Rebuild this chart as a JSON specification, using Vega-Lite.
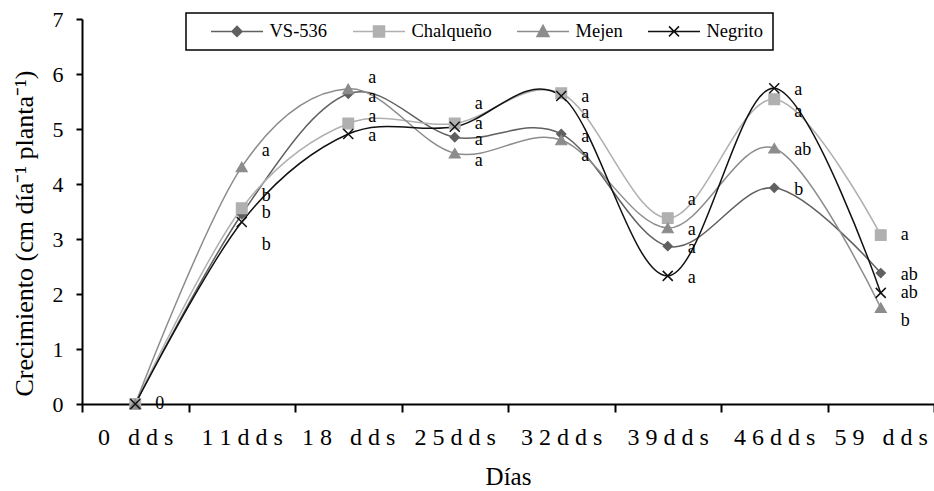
{
  "$schema": "https://vega.github.io/schema/vega-lite/v6.json",
  "width": 852,
  "height": 385,
  "autosize": {"type": "none"},
  "padding": {"left": 82, "top": 19, "right": 0, "bottom": 87},
  "background": "white",
  "config": {"font": "Liberation Serif", "view": {"stroke": null}},
  "data": {
    "values": [
      {"d": "0 dds", "s": "VS-536", "v": 0, "l": "0", "ly": 0},
      {"d": "0 dds", "s": "Chalqueño", "v": 0, "l": "", "ly": 0},
      {"d": "0 dds", "s": "Mejen", "v": 0, "l": "", "ly": 0},
      {"d": "0 dds", "s": "Negrito", "v": 0, "l": "", "ly": 0},
      {"d": "11dds", "s": "VS-536", "v": 3.45, "l": "b", "ly": 3.47},
      {"d": "11dds", "s": "Chalqueño", "v": 3.56, "l": "b", "ly": 3.78},
      {"d": "11dds", "s": "Mejen", "v": 4.31, "l": "a", "ly": 4.6},
      {"d": "11dds", "s": "Negrito", "v": 3.31, "l": "b", "ly": 2.89},
      {"d": "18 dds", "s": "VS-536", "v": 5.64, "l": "a", "ly": 5.58},
      {"d": "18 dds", "s": "Chalqueño", "v": 5.1, "l": "a", "ly": 5.22},
      {"d": "18 dds", "s": "Mejen", "v": 5.73, "l": "a", "ly": 5.93},
      {"d": "18 dds", "s": "Negrito", "v": 4.91, "l": "a", "ly": 4.87},
      {"d": "25dds", "s": "VS-536", "v": 4.85, "l": "a", "ly": 4.8},
      {"d": "25dds", "s": "Chalqueño", "v": 5.1, "l": "a", "ly": 5.45},
      {"d": "25dds", "s": "Mejen", "v": 4.56, "l": "a", "ly": 4.42},
      {"d": "25dds", "s": "Negrito", "v": 5.04, "l": "a", "ly": 5.09},
      {"d": "32dds", "s": "VS-536", "v": 4.91, "l": "a", "ly": 4.85},
      {"d": "32dds", "s": "Chalqueño", "v": 5.65, "l": "a", "ly": 5.58},
      {"d": "32dds", "s": "Mejen", "v": 4.8, "l": "a", "ly": 4.51},
      {"d": "32dds", "s": "Negrito", "v": 5.6, "l": "a", "ly": 5.29},
      {"d": "39dds", "s": "VS-536", "v": 2.87, "l": "a", "ly": 2.84},
      {"d": "39dds", "s": "Chalqueño", "v": 3.38, "l": "a", "ly": 3.71},
      {"d": "39dds", "s": "Mejen", "v": 3.2, "l": "a", "ly": 3.16},
      {"d": "39dds", "s": "Negrito", "v": 2.33, "l": "a", "ly": 2.29},
      {"d": "46dds", "s": "VS-536", "v": 3.93, "l": "b", "ly": 3.89},
      {"d": "46dds", "s": "Chalqueño", "v": 5.54, "l": "a", "ly": 5.31},
      {"d": "46dds", "s": "Mejen", "v": 4.65, "l": "ab", "ly": 4.62},
      {"d": "46dds", "s": "Negrito", "v": 5.74, "l": "a", "ly": 5.71},
      {"d": "59 dds", "s": "VS-536", "v": 2.38, "l": "ab", "ly": 2.35},
      {"d": "59 dds", "s": "Chalqueño", "v": 3.07, "l": "a", "ly": 3.07},
      {"d": "59 dds", "s": "Mejen", "v": 1.75, "l": "b", "ly": 1.51},
      {"d": "59 dds", "s": "Negrito", "v": 2.02, "l": "ab", "ly": 2.02}
    ]
  },
  "encoding": {
    "x": {
      "field": "d",
      "type": "ordinal",
      "sort": ["0 dds", "11dds", "18 dds", "25dds", "32dds", "39dds", "46dds", "59 dds"],
      "scale": {"type": "band", "paddingInner": 0, "paddingOuter": 0},
      "axis": {
        "title": "Días",
        "titleFontSize": 25,
        "titleFontWeight": "normal",
        "titleColor": "black",
        "titlePadding": 15,
        "labelFontSize": 24,
        "labelColor": "black",
        "labelAngle": 0,
        "labelPadding": 13,
        "labelOverlap": false,
        "labelExpr": "join(split(replace(datum.label, ' ', '\u00a0'), ''), '\u00a0')",
        "tickBand": "extent",
        "tickSize": 8,
        "tickColor": "black",
        "tickWidth": 2,
        "domainColor": "black",
        "domainWidth": 2
      }
    },
    "y": {
      "field": "v",
      "type": "quantitative",
      "scale": {"domain": [0, 7]},
      "axis": {
        "title": "Crecimiento (cm día⁻¹ planta⁻¹)",
        "titleFontSize": 26,
        "titleFontWeight": "normal",
        "titleColor": "black",
        "titlePadding": 15,
        "titleY": 214,
        "values": [0, 1, 2, 3, 4, 5, 6, 7],
        "labelFontSize": 22,
        "labelColor": "black",
        "labelPadding": 13,
        "tickSize": 6,
        "tickColor": "black",
        "tickWidth": 2,
        "domainColor": "black",
        "domainWidth": 2,
        "grid": false
      }
    },
    "color": {
      "field": "s",
      "type": "nominal",
      "scale": {
        "domain": ["VS-536", "Chalqueño", "Mejen", "Negrito"],
        "range": ["#606060", "#b0b0b0", "#8c8c8c", "#111111"]
      },
      "legend": {
        "orient": "none",
        "direction": "horizontal",
        "columns": 4,
        "legendX": 104,
        "legendY": -6,
        "title": "\u00a0",
        "titleOrient": "left",
        "titleFontSize": 12,
        "titlePadding": 16,
        "padding": 9,
        "columnPadding": 22,
        "strokeColor": "black",
        "fillColor": "white",
        "labelFontSize": 18.5,
        "labelColor": "black",
        "labelOffset": 40,
        "labelExpr": "datum.label === 'Negrito' ? datum.label + '\u00a0\u00a0\u00a0\u00a0' : datum.label",
        "symbolSize": 100,
        "encode": {
          "legend": {"update": {"strokeWidth": {"value": 1.5}}},
          "symbols": {
            "update": {
              "shape": {"signal": "datum.value === 'VS-536' ? 'M-5.2,0L5.2,0M0,-1L1,0L0,1L-1,0Z' : datum.value === 'Chalqueño' ? 'M-5.2,0L5.2,0M-1.1,-1.1L1.1,-1.1L1.1,1.1L-1.1,1.1Z' : datum.value === 'Mejen' ? 'M-5.2,0L5.2,0M0,-1.2L1.2,1L-1.2,1Z' : 'M-5.2,0L5.2,0M-1,-1L1,1M-1,1L1,-1'"},
              "fill": {"signal": "scale('color', datum.value)"},
              "stroke": {"signal": "scale('color', datum.value)"},
              "strokeWidth": {"value": 1.5},
              "opacity": {"value": 1},
              "x": {"value": 26}
            }
          }
        }
      }
    }
  },
  "layer": [
    {
      "mark": {"type": "line", "interpolate": "cardinal", "strokeWidth": 1.5}
    },
    {
      "transform": [{"filter": {"field": "s", "equal": "VS-536"}}],
      "mark": {"type": "point", "shape": "diamond", "size": 85, "filled": true, "stroke": "#606060", "strokeWidth": 1.2, "opacity": 1}
    },
    {
      "transform": [{"filter": {"field": "s", "equal": "Chalqueño"}}],
      "mark": {"type": "point", "shape": "square", "size": 115, "filled": true, "stroke": "#b0b0b0", "strokeWidth": 1.2, "opacity": 1}
    },
    {
      "transform": [{"filter": {"field": "s", "equal": "Mejen"}}],
      "mark": {"type": "point", "shape": "triangle-up", "size": 120, "filled": true, "stroke": "#8c8c8c", "strokeWidth": 1.2, "opacity": 1}
    },
    {
      "transform": [{"filter": {"field": "s", "equal": "Negrito"}}],
      "mark": {"type": "point", "shape": "M-1,-1L1,1M-1,1L1,-1", "size": 100, "filled": false, "strokeWidth": 1.5, "opacity": 1}
    },
    {
      "mark": {"type": "text", "align": "left", "baseline": "middle", "dx": 20, "fontSize": 18},
      "encoding": {
        "y": {
          "field": "ly",
          "type": "quantitative",
          "scale": {"domain": [0, 7]},
          "axis": {
            "title": "Crecimiento (cm día⁻¹ planta⁻¹)",
            "titleFontSize": 26,
            "titleFontWeight": "normal",
            "titleColor": "black",
            "titlePadding": 15,
            "titleY": 214,
            "values": [0, 1, 2, 3, 4, 5, 6, 7],
            "labelFontSize": 22,
            "labelColor": "black",
            "labelPadding": 13,
            "tickSize": 6,
            "tickColor": "black",
            "tickWidth": 2,
            "domainColor": "black",
            "domainWidth": 2,
            "grid": false
          }
        },
        "text": {"field": "l"},
        "color": {"value": "black"}
      }
    }
  ]
}
